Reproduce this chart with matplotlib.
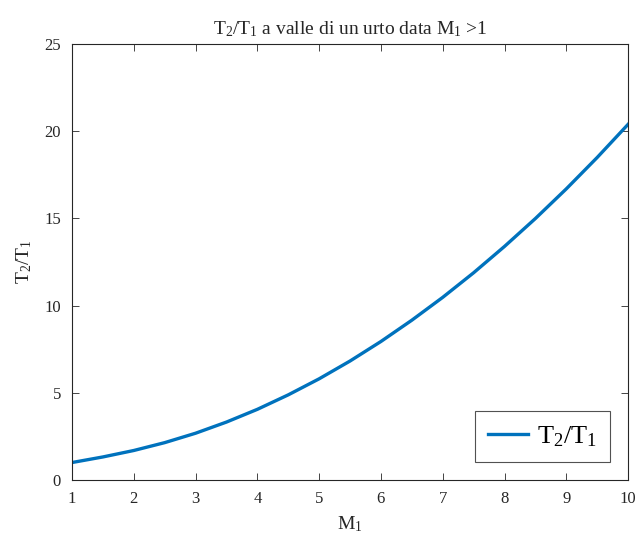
import matplotlib
matplotlib.use("Agg")
import matplotlib.pyplot as plt

plt.rcParams['font.family'] = ['Liberation Serif', 'DejaVu Serif']
plt.rcParams['mathtext.fontset'] = 'custom'
plt.rcParams['mathtext.rm'] = 'Liberation Serif'

# Upstream Mach number and temperature ratio across a normal shock
mach = [1.0, 1.5, 2.0, 2.5, 3.0, 3.5, 4.0, 4.5, 5.0, 5.5,
        6.0, 6.5, 7.0, 7.5, 8.0, 8.5, 9.0, 9.5, 10.0]
temp_ratio = [1.00, 1.32, 1.69, 2.14, 2.68, 3.32, 4.05, 4.88, 5.80, 6.82,
              7.94, 9.16, 10.47, 11.88, 13.39, 14.99, 16.69, 18.49, 20.39]
x_ticks = [1, 2, 3, 4, 5, 6, 7, 8, 9, 10]
y_ticks = [0, 5, 10, 15, 20, 25]

fig = plt.figure(figsize=(6.37, 5.41), dpi=100)
ax = fig.add_axes([0.113, 0.1128, 0.873, 0.806])

ax.plot(mach, temp_ratio, color='#0072BD', linewidth=2.4,
        label=r'$\mathregular{T_2/T_1}$')

ax.set_xlim(1, 10)
ax.set_ylim(0, 25)
ax.set_xticks(x_ticks)
ax.set_yticks(y_ticks)

edge = '#262626'
for s in ax.spines.values():
    s.set_color(edge)
    s.set_linewidth(0.8)
ax.tick_params(direction='in', top=True, right=True, length=5,
               width=0.6, colors=edge, labelsize=12, pad=8)

ax.set_title(r'$\mathregular{T_2/T_1}$ a valle di un urto data $\mathregular{M_1}$ >1',
             fontsize=14, color=edge, pad=7)
ax.set_xlabel(r'$\mathregular{M_1}$', fontsize=14, color=edge, labelpad=5)
ax.set_ylabel(r'$\mathregular{T_2/T_1}$', fontsize=14, color=edge, labelpad=7)

leg = ax.legend(loc='lower right', fontsize=19, frameon=True, fancybox=False,
                edgecolor=edge, handlelength=1.5, borderpad=0.5,
                handletextpad=0.35, bbox_to_anchor=(0.992, 0.01))
leg.get_frame().set_linewidth(0.8)

fig.savefig('out.png', dpi=100)
